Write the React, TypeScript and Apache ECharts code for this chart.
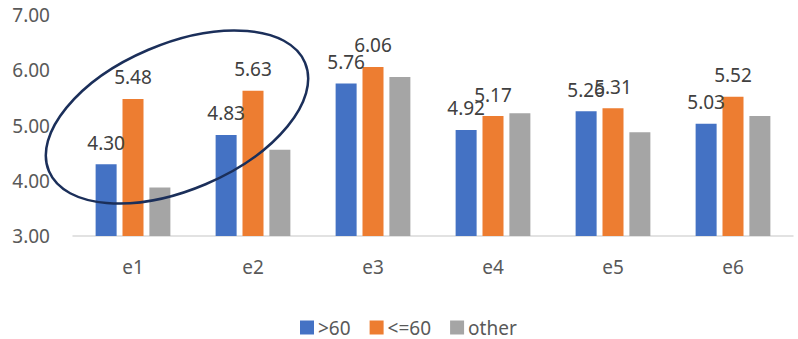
import React, { useEffect, useRef } from "react";
import * as echarts from "echarts";

const categories = ["e1", "e2", "e3", "e4", "e5", "e6"];
const seriesNames = [">60", "<=60", "other"];
const over60 = [4.30, 4.83, 5.76, 4.92, 5.26, 5.03];
const under60 = [5.48, 5.63, 6.06, 5.17, 5.31, 5.52];
const other = [3.88, 4.56, 5.88, 5.22, 4.88, 5.17];
const yTicks = { min: 3, max: 7, interval: 1 };

const FONT = "Noto Sans";

export default function App() {
  const ref = useRef<HTMLDivElement>(null);
  useEffect(() => {
    if (!ref.current) return;
    const chart = echarts.init(ref.current, undefined, { renderer: "svg" });
    const labelCfg = {
      show: true,
      position: "top",
      distance: 12,
      color: "#404040",
      fontFamily: FONT,
      fontSize: 19,
      formatter: (p: any) => Number(p.value).toFixed(2),
    };
    const colors = ["#4472C4", "#ED7D31", "#A5A5A5"];
    const datas = [over60, under60, other];
    chart.setOption({
      animation: false,
      textStyle: { fontFamily: FONT },
      grid: { left: 73, right: 5, top: 15, bottom: 103, containLabel: false },
      legend: {
        data: seriesNames,
        left: 295,
        top: 313,
        itemWidth: 14,
        itemHeight: 14,
        itemGap: 19,
        icon: "rect",
        textStyle: { color: "#595959", fontSize: 19, fontFamily: FONT, padding: [0, 0, 0, -1] },
      },
      xAxis: {
        type: "category",
        data: categories,
        axisTick: { show: false },
        axisLine: { lineStyle: { color: "#D9D9D9", width: 1.5 } },
        axisLabel: { color: "#595959", fontSize: 19, fontFamily: FONT, margin: 21 },
      },
      yAxis: {
        type: "value",
        min: yTicks.min,
        max: yTicks.max,
        interval: yTicks.interval,
        splitLine: { show: false },
        axisLine: { show: false },
        axisTick: { show: false },
        axisLabel: {
          color: "#595959",
          fontSize: 19,
          fontFamily: FONT,
          margin: 23,
          formatter: (v: number) => v.toFixed(2),
        },
      },
      series: seriesNames.map((name, i) => ({
        name,
        type: "bar",
        data: datas[i],
        barWidth: 21,
        barGap: "28%",
        itemStyle: { color: colors[i] },
        label: i < 2 ? labelCfg : { show: false },
      })),
      graphic: [
        {
          type: "ellipse",
          x: 177,
          y: 117,
          rotation: (23 * Math.PI) / 180,
          shape: { cx: 0, cy: 0, rx: 139, ry: 73 },
          style: { fill: "none", stroke: "#1B2F5A", lineWidth: 2.5 },
          z: 100,
        },
      ],
    });
    return () => chart.dispose();
  }, []);
  return (
    <div
      ref={ref}
      style={{ position: "fixed", left: 0, top: 0, width: 798, height: 339, background: "#fff" }}
    />
  );
}
